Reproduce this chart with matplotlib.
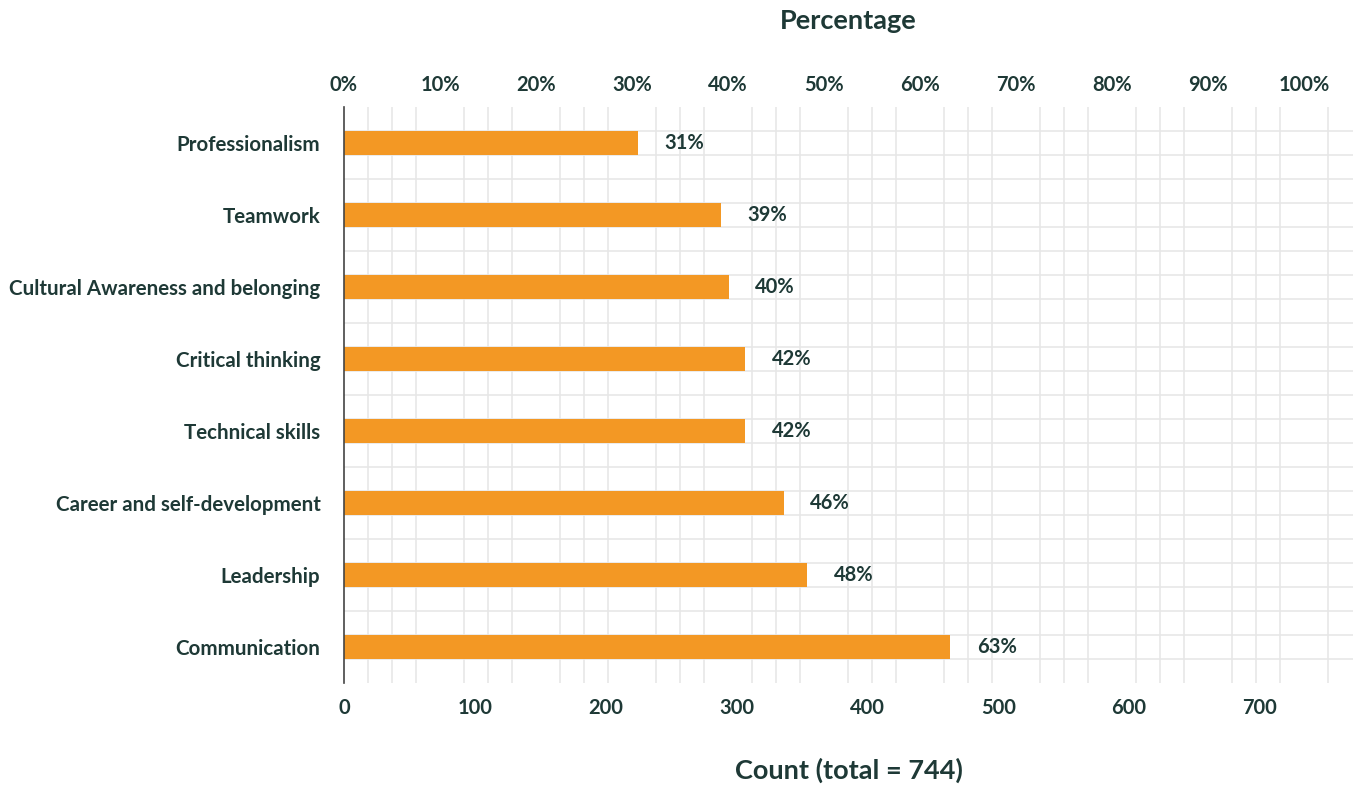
import numpy as np
import matplotlib.pyplot as plt
from matplotlib.ticker import FixedLocator, FuncFormatter

plt.rcParams['font.family'] = ['Lato', 'DejaVu Sans']

# Data
categories = ['Professionalism', 'Teamwork', 'Cultural Awareness and belonging',
              'Critical thinking', 'Technical skills', 'Career and self-development',
              'Leadership', 'Communication']
counts = [228, 292, 298, 311, 311, 341, 359, 470]
total = 744
pct_ticks = [0, 10, 20, 30, 40, 50, 60, 70, 80, 90, 100]
count_ticks = [0, 100, 200, 300, 400, 500, 600, 700]

# count axis domain 0..752 spans the same width as 0..102.5 %
count_domain = 752
pct_domain = 102.5

text_color = '#1e3936'
bar_color = '#f39824'
grid_color = '#e6e6e6'

fig = plt.figure(figsize=(13.53, 7.85), dpi=100)
ax = fig.add_axes([344 / 1353, 1 - 683 / 785, 1009 / 1353, 576 / 785])

n = len(categories)
y = np.arange(n)[::-1]
pcts = [c / total * 100 for c in counts]
ax.barh(y, pcts, height=1 / 3, color=bar_color, zorder=3)

ax.set_ylim(-0.5, n - 0.5)
ax.set_xlim(0, 100 * 1009 / 960)

# square grid: 2.5 % steps across, thirds of a category band down
ax.set_xticks(pct_ticks)
ax.xaxis.set_minor_locator(FixedLocator([2.5 * k for k in range(1, 42)]))
ax.set_yticks(y)
ax.yaxis.set_minor_locator(FixedLocator([-0.5 + k / 3 for k in range(1, 3 * n)]))
ax.set_yticklabels(categories)
ax.grid(which='minor', axis='both', color=grid_color, linewidth=1.1, zorder=0)
ax.grid(which='major', visible=False)
ax.tick_params(which='both', length=0)
ax.tick_params(axis='y', pad=17, labelsize=14.8, labelcolor=text_color)

# percentage labels on top
ax.xaxis.tick_top()
ax.xaxis.set_major_formatter(FuncFormatter(lambda v, _: f'{v:.0f}%'))
ax.tick_params(axis='x', pad=9, labelsize=14.5, labelcolor=text_color)
for lab in ax.get_xticklabels() + ax.get_yticklabels():
    lab.set_fontweight('bold')

for s in ['top', 'right', 'bottom']:
    ax.spines[s].set_visible(False)
ax.spines['left'].set_color('#444444')
ax.spines['left'].set_linewidth(1.2)
ax.spines['left'].set_zorder(4)

# count axis at the bottom
ratio = count_domain / pct_domain
sec = ax.secondary_xaxis('bottom', functions=(lambda p: p * ratio,
                                              lambda c: c / ratio))
sec.set_xticks(count_ticks)
sec.tick_params(length=0, pad=11, labelsize=14.5, labelcolor=text_color)
for lab in sec.get_xticklabels():
    lab.set_fontweight('bold')
sec.spines['bottom'].set_visible(False)

# value labels
for yi, p in zip(y, pcts):
    ax.annotate(f'{round(p)}%', xy=(p, yi), xytext=(19, 0),
                textcoords='offset points', va='center', ha='left',
                fontsize=14.5, fontweight='bold', color=text_color)

cx = (344 + 1353) / 2 / 1353
fig.text(cx, 1 - 21 / 785, 'Percentage', ha='center', va='center',
         fontsize=19.5, fontweight='bold', color=text_color)
fig.text(cx, 1 - 770 / 785, 'Count (total = 744)', ha='center', va='center',
         fontsize=19.5, fontweight='bold', color=text_color)

fig.savefig('out.png', dpi=100)
